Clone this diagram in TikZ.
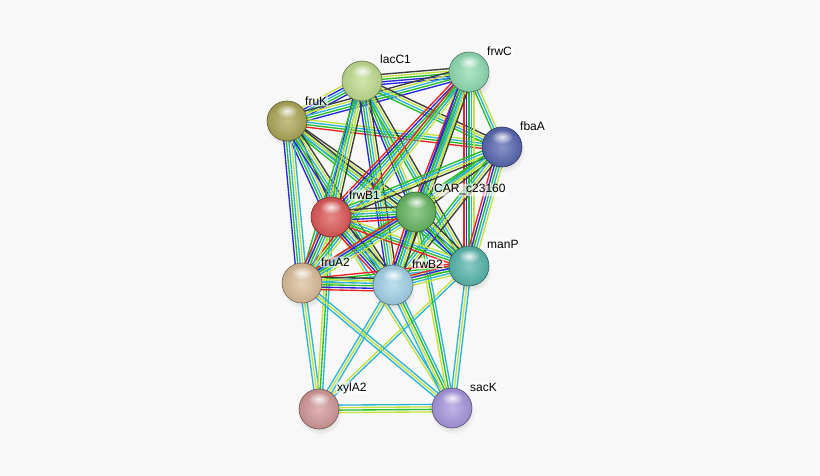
\documentclass[tikz,border=0pt]{standalone}
\usepackage{fontspec}
\setmainfont{Liberation Sans}
\usetikzlibrary{calc,fadings}
\pgfdeclarelayer{back}
\pgfdeclarelayer{bg}
\pgfsetlayers{back,bg,main}
\tikzfading[name=softdot, inner color=transparent!0, outer color=transparent!100]

\definecolor{ctm}{RGB}{196,226,60}
\definecolor{cdb}{RGB}{45,180,215}
\definecolor{cnb}{RGB}{40,190,40}
\definecolor{cco}{RGB}{60,60,60}
\definecolor{cbl}{RGB}{40,40,225}
\definecolor{crd}{RGB}{235,35,35}
\definecolor{bgc}{RGB}{248,248,248}

\definecolor{kL}{RGB}{190,218,140}
\definecolor{kC}{RGB}{140,218,175}
\definecolor{kK}{RGB}{170,165,85}
\definecolor{kF}{RGB}{85,100,175}
\definecolor{kB}{RGB}{220,85,85}
\definecolor{kCAR}{RGB}{100,180,95}
\definecolor{kM}{RGB}{85,180,170}
\definecolor{kA}{RGB}{218,188,152}
\definecolor{kBB}{RGB}{160,208,230}
\definecolor{kX}{RGB}{208,150,150}
\definecolor{kS}{RGB}{165,148,220}

\tikzset{
  ball/.style={circle, minimum size=40pt, inner sep=0pt, draw=#1!55!black, line width=0.6pt,
    shading=radial, inner color=#1!70!white, outer color=#1!92!black},
  lab/.style={anchor=west, inner sep=1pt, rounded corners=2pt, fill=white, fill opacity=0.6,
    text opacity=1, font=\fontsize{12}{14}\selectfont},
  eline/.style={line width=1.35pt}
}

\newcounter{ecnt}
\newcommand\edgeE[3]{%
  \setcounter{ecnt}{0}%
  \foreach \c in {#3}{\stepcounter{ecnt}}%
  \foreach \c [count=\i] in {#3}{%
    \pgfmathsetmacro\off{(\i-(\theecnt+1)/2)*2.5}%
    \draw[eline,\c] ($(#1.center)!\off pt!90:(#2.center)$) -- ($(#2.center)!\off pt!-90:(#1.center)$);
  }%
}

\newcommand\ballN[4]{%
  \fill[black, opacity=0.35, path fading=softdot] (#2+1,#3+5) ellipse (22pt and 21pt);
  \node[ball=#4] (#1) at (#2,#3) {};
  \fill[white, opacity=0.85, path fading=softdot] (#2,#3-10) ellipse (11pt and 7pt);
}

\begin{document}
\begin{tikzpicture}[x=1pt,y=-1pt]
\begin{pgfonlayer}{back}
\fill[bgc] (0,0) rectangle (820,476);
\end{pgfonlayer}
\useasboundingbox (0,0) rectangle (820,476);

\ballN{L}{362}{81}{kL}
\ballN{C}{469}{72}{kC}
\ballN{K}{287}{121}{kK}
\ballN{F}{502}{147}{kF}
\ballN{B1}{331}{217}{kB}
\ballN{CAR}{416}{212}{kCAR}
\ballN{M}{469}{266}{kM}
\ballN{A2}{302}{283}{kA}
\ballN{B2}{393}{285}{kBB}
\ballN{X}{319}{409}{kX}
\ballN{S}{452}{408}{kS}

\node[lab] (lL) at (379,59) {lacC1};
\node[lab] (lC) at (486,51) {frwC};
\node[lab] (lK) at (304,101) {fruK};
\node[lab] (lF) at (519,126) {fbaA};
\node[lab] (lB1) at (348,195) {frwB1};
\node[lab] (lCAR) at (433,190) {CAR\_c23160};
\node[lab] (lM) at (486,244) {manP};
\node[lab] (lA2) at (320,262) {fruA2};
\node[lab] (lB2) at (411,264) {frwB2};
\node[lab] (lX) at (336,388) {xylA2};
\node[lab] (lS) at (469,387) {sacK};

\begin{pgfonlayer}{bg}
\edgeE{X}{S}{ctm,cnb,ctm,cdb}
\edgeE{X}{A2}{cdb,ctm,cdb}
\edgeE{X}{B1}{cdb,cnb,ctm}
\edgeE{X}{B2}{cdb,ctm,cdb}
\edgeE{X}{M}{cdb,ctm}
\edgeE{S}{A2}{cdb,ctm,cdb}
\edgeE{S}{B1}{cdb,ctm}
\edgeE{S}{B2}{cdb,cnb,ctm,cdb}
\edgeE{S}{CAR}{cdb,cnb,ctm}
\edgeE{S}{M}{cdb,ctm,cdb}

\edgeE{L}{C}{cbl,cbl,cnb,ctm,cco}
\edgeE{K}{L}{cbl,cnb,cdb,cbl,ctm}
\edgeE{K}{C}{cbl,cnb,cdb,ctm,cco}
\edgeE{K}{F}{crd,cnb,cdb,ctm}
\edgeE{L}{F}{cnb,cdb,ctm,cco}
\edgeE{C}{F}{cnb,cdb,ctm}
\edgeE{K}{B1}{cbl,cnb,cdb,ctm,cco}
\edgeE{K}{CAR}{cnb,cdb,ctm,cco}
\edgeE{K}{M}{cnb,cdb,ctm,cco}
\edgeE{K}{A2}{cbl,cnb,cdb,ctm,cdb}
\edgeE{K}{B2}{cbl,cnb,cdb,ctm,cco}
\edgeE{L}{B1}{cbl,cnb,cdb,ctm,cco}
\edgeE{L}{CAR}{cbl,cnb,cdb,ctm}
\edgeE{L}{M}{cnb,cdb,ctm,cco}
\edgeE{L}{A2}{cnb,cdb,ctm}
\edgeE{L}{B2}{cbl,cnb,cdb,ctm,cco}
\edgeE{C}{B1}{crd,cbl,cnb,cdb,ctm}
\edgeE{C}{CAR}{crd,cbl,cnb,cdb,ctm}
\edgeE{C}{M}{crd,cbl,cnb,cdb,ctm}
\edgeE{C}{A2}{crd,cnb,cdb,ctm}
\edgeE{C}{B2}{cbl,cnb,cdb,ctm,cco}
\edgeE{F}{B1}{cnb,cdb,ctm,cco}
\edgeE{F}{CAR}{cnb,cdb,ctm,cco}
\edgeE{F}{M}{crd,cbl,cnb,cdb,ctm}
\edgeE{F}{A2}{cnb,cdb,ctm}
\edgeE{F}{B2}{cnb,cdb,ctm,cco}
\edgeE{B1}{CAR}{crd,cbl,cnb,cdb,ctm,cco}
\edgeE{B1}{M}{crd,cnb,cdb,ctm}
\edgeE{B1}{A2}{crd,cbl,cnb,cdb,ctm}
\edgeE{B1}{B2}{crd,cbl,cnb,cdb,ctm,cco}
\edgeE{CAR}{M}{cbl,cnb,cdb,ctm,cco}
\edgeE{CAR}{A2}{crd,cbl,cnb,cdb,ctm}
\edgeE{CAR}{B2}{crd,cbl,cnb,cdb,ctm,cco}
\edgeE{M}{A2}{crd,cnb,cdb,ctm}
\edgeE{M}{B2}{crd,cbl,cnb,cdb,ctm}
\edgeE{A2}{B2}{crd,cbl,cnb,cdb,ctm,cco}
\end{pgfonlayer}
\end{tikzpicture}
\end{document}
